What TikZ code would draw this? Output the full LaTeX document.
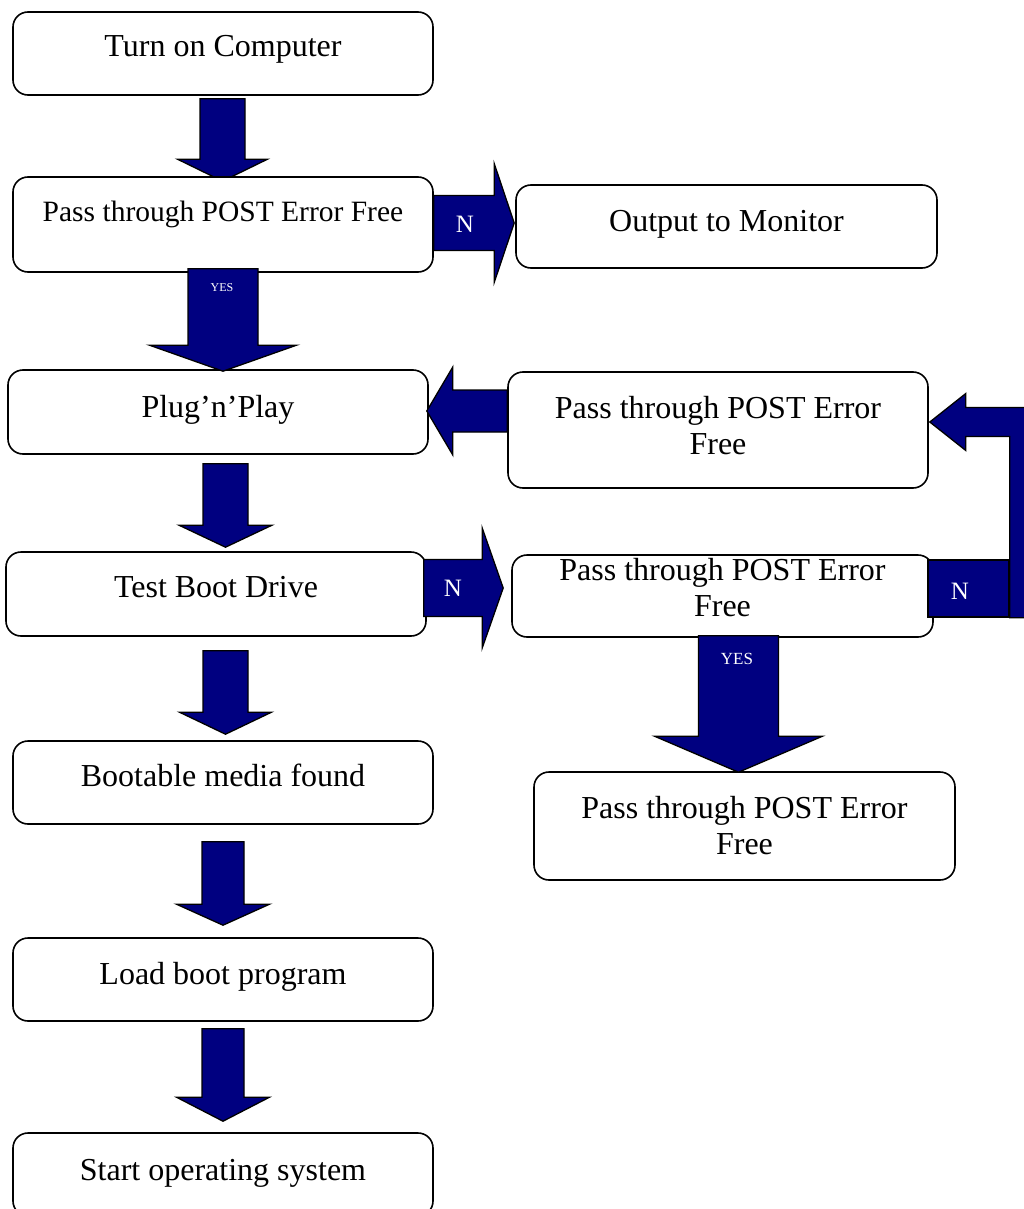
\documentclass[tikz,border=0pt]{standalone}
\usepackage{fontspec}
\setmainfont{Liberation Serif}
\usetikzlibrary{calc}
\definecolor{navy}{RGB}{0,0,128}
\pgfdeclarelayer{bg}
\pgfsetlayers{bg,main}
\tikzset{
  box/.style={draw=black, line width=1.6pt, fill=white, rounded corners=15pt, inner sep=0pt},
  blk/.style={draw=black, line width=1.3pt, fill=navy, line join=miter},
  txt/.style={font=\fontsize{32}{36}\selectfont, inner sep=0pt, anchor=base},
  txtb/.style={font=\fontsize{32}{36}\selectfont, inner sep=0pt, align=center},
  nlab/.style={text=white, font=\fontsize{25}{28}\selectfont, inner sep=0pt},
  ylab/.style={text=white, inner sep=0pt},
  nrectstyle/.style={draw=black, line width=1.3pt, fill=navy, inner sep=0pt},
}
% #1 start, #2 tip, #3 half shaft, #4 half head, #5 head length
\newcommand\dnarrow[5]{\draw[blk] let \p1=(#1),\p2=(#2) in
  (\x2-#3,\y1) -- (\x2-#3,\y2+#5) -- (\x2-#4,\y2+#5) -- (\x2,\y2) --
  (\x2+#4,\y2+#5) -- (\x2+#3,\y2+#5) -- (\x2+#3,\y1) -- cycle;}
\newcommand\rtarrow[5]{\draw[blk] let \p1=(#1),\p2=(#2) in
  (\x1,\y2+#3) -- (\x2-#5,\y2+#3) -- (\x2-#5,\y2+#4) -- (\x2,\y2) --
  (\x2-#5,\y2-#4) -- (\x2-#5,\y2-#3) -- (\x1,\y2-#3) -- cycle;}
\newcommand\ltarrow[5]{\draw[blk] let \p1=(#1),\p2=(#2) in
  (\x1,\y2+#3) -- (\x2+#5,\y2+#3) -- (\x2+#5,\y2+#4) -- (\x2,\y2) --
  (\x2+#5,\y2-#4) -- (\x2+#5,\y2-#3) -- (\x1,\y2-#3) -- cycle;}
\begin{document}
\begin{tikzpicture}[x=1pt,y=-1pt]
\useasboundingbox (0,0) rectangle (1024,1209);

% left column boxes
\node[box, minimum width=420pt, minimum height=83pt] (b1) at (223,53.5) {};
\node[box, minimum width=420pt, minimum height=95pt] (b2) at (223,224.5) {};
\node[box, minimum width=420pt, minimum height=84pt] (b3) at (218,412) {};
\node[box, minimum width=420pt, minimum height=84pt] (b4) at (216,594) {};
\node[box, minimum width=420pt, minimum height=83pt] (b5) at (223,782.5) {};
\node[box, minimum width=420pt, minimum height=83pt] (b6) at (223,979.5) {};
\node[box, minimum width=420pt, minimum height=83pt] (b7) at (223,1174.5) {};

% right column boxes
\node[box, minimum width=421pt, minimum height=83pt] (out) at (726.5,226.5) {};
\node[box, minimum width=420pt, minimum height=116pt] (pA) at (718,430) {};
\node[box, minimum width=421pt, minimum height=82pt] (pB) at (722.5,596) {};
\node[box, minimum width=421pt, minimum height=108pt] (pC) at (744.5,826) {};

% texts
\node[txt] (t1) at (223,57) {Turn on Computer};
\node[txt, font=\fontsize{29.5}{34}\selectfont] (t2) at (223,221) {Pass through POST Error Free};
\node[txt] (t3) at (218,417) {Plug’n’Play};
\node[txt] (t4) at (216,597) {Test Boot Drive};
\node[txt] (t5) at (223,786) {Bootable media found};
\node[txt] (t6) at (223,984) {Load boot program};
\node[txt] (t7) at (223,1180) {Start operating system};
\node[txt] (to) at (726.5,231) {Output to Monitor};
\node[txtb] (tA) at (718,426) {Pass through POST Error\\Free};
\node[txtb] (tB) at (722.5,588) {Pass through POST Error\\Free};
\node[txtb] (tC) at (744.5,826) {Pass through POST Error\\Free};

% arrow 1 behind box 2
\begin{pgfonlayer}{bg}
\dnarrow{$(b1.south)+(0,3)$}{$(b2.north)+(-0.5,5)$}{22.5pt}{45pt}{22pt}
\end{pgfonlayer}

% down arrows
\dnarrow{$(b2.south)+(0,-4)$}{$(b2.south |- b3.north)+(0,2)$}{35pt}{73.5pt}{26pt}
\dnarrow{$(b3.south)+(0,9)$}{$(b4.north)+(9.5,-4)$}{22.5pt}{46.5pt}{22pt}
\dnarrow{$(b4.south)+(0,14)$}{$(b5.north)+(2.5,-6)$}{22.5pt}{46pt}{22pt}
\dnarrow{$(b5.south)+(0,17)$}{$(b6.north)+(0,-12)$}{21pt}{46.5pt}{21pt}
\dnarrow{$(b6.south)+(0,7)$}{$(b7.north)+(0,-11)$}{21pt}{46.5pt}{24pt}
\dnarrow{$(pB.south)+(0,-2)$}{$(pC.north)+(-6,1)$}{40pt}{84pt}{36pt}

% horizontal arrows
\rtarrow{b2.east}{$(out.west)+(-1,-3.5)$}{27.5pt}{59.5pt}{20pt}
\rtarrow{$(b4.east)+(-3,0)$}{$(pB.west)+(-8,-8)$}{28.5pt}{60pt}{21pt}
\ltarrow{pA.west}{$(b3.east)+(-2,-1)$}{21pt}{44pt}{26pt}

% N box and bent arrow
\node[nrectstyle, minimum width=81pt, minimum height=57pt] (nrect) at (968.5,588.5) {};
\draw[blk] let \p1=(nrect.south east), \p2=($(pA.east)+(1,-8)$) in
  (\x1,\y1) -- (\x1,\y2-14.5pt) -- (\x2+36pt,\y2-14.5pt) -- (\x2+36pt,\y2-28.5pt) --
  (\x2,\y2) -- (\x2+36pt,\y2+28.5pt) -- (\x2+36pt,\y2+14.5pt) --
  (\x1+31pt,\y2+14.5pt) -- (\x1+31pt,\y1) -- cycle;

% labels
\node[nlab] (n1) at (465,224) {N};
\node[nlab] (n2) at (453,588) {N};
\node[nlab] (n3) at (960,591) {N};
\node[ylab, font=\fontsize{12}{14}\selectfont] (y1) at (222,288) {YES};
\node[ylab, font=\fontsize{17}{20}\selectfont] (y2) at (737,659) {YES};
\end{tikzpicture}
\end{document}
